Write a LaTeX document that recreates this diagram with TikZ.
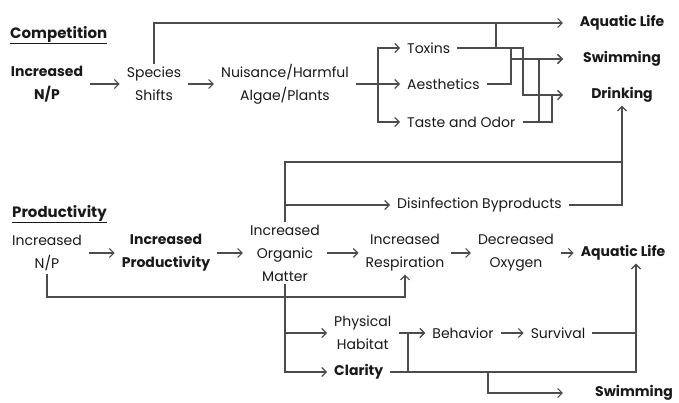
\documentclass[tikz,border=0pt]{standalone}
\usepackage{fontspec}
\setmainfont{Poppins}
\usetikzlibrary{arrows.meta, calc}

\begin{document}
\begin{tikzpicture}[x=1pt, y=-1pt,
    every node/.style={font=\fontsize{14}{23}\selectfont, inner xsep=7pt, inner ysep=3pt, align=center, text=black!90},
    bx/.style={font=\fontsize{14}{23}\selectfont\bfseries},
    ttl/.style={font=\fontsize{15}{18}\selectfont\bfseries, anchor=west, inner sep=0pt},
    outbox/.style={bx, minimum width=118pt, inner xsep=0pt},
    ln/.style={draw=black!70, line width=1.1pt},
    arrow/.style={ln, -{Straight Barb[length=4.5pt, width=9pt]}}]

  \useasboundingbox (0,0) rectangle (679,403);

  \node[ttl] (tComp) at (10,35) {\underline{Competition}};
  \node[bx] (cNP)    at (47,84)  {Increased\\N/P};
  \node (cSpec)      at (154,84) {Species\\Shifts};
  \node (cAlgae)     at (285,84) {Nuisance/Harmful\\Algae/Plants};
  \node[anchor=west] (cTox)   at (400,48)  {Toxins};
  \node[anchor=west] (cAes)   at (400,84)  {Aesthetics};
  \node[anchor=west] (cTaste) at (400,122) {Taste and Odor};
  \node[outbox] (uAqua)  at (622,23) {Aquatic Life};
  \node[outbox] (uSwim)  at (622,59) {Swimming};
  \node[outbox] (uDrink) at (622,95) {Drinking};

  \coordinate (brk) at (378,0);
  \coordinate (jA) at (496,0);
  \coordinate (jB) at (511,0);
  \coordinate (jC) at (523,0);
  \coordinate (jD) at (539,0);
  \coordinate (jE) at (552,0);

  \draw[arrow] (cNP) -- (cSpec);
  \draw[arrow] (cSpec) -- (cAlgae);
  \draw[arrow] (cSpec.north) |- (uAqua.west);
  \draw[arrow] (cAlgae.east) -- (cAes.west);
  \draw[arrow] (cAlgae.east -| brk) |- (cTox.west);
  \draw[arrow] (cAlgae.east -| brk) |- (cTaste.west);
  \draw[ln] (cTox.east) -| (jA |- uAqua.west);
  \draw[arrow] (cTox.east) -| (jB |- uSwim.west) -- (uSwim.west);
  \draw[arrow] (cTox.east) -| (jC |- uDrink.west) -- (uDrink.west);
  \draw[arrow] (cAes.east) -| (jB |- uSwim.west) -- (uSwim.west);
  \draw[arrow] (cTaste.east) -| (jD |- uSwim.west) -- (uSwim.west);
  \draw[arrow] (cTaste.east) -| (jE |- uDrink.west) -- (uDrink.west);

  \node[ttl] (tProd) at (12,214) {\underline{Productivity}};
  \node (pNP)        at (47,253)  {Increased\\N/P};
  \node[bx] (pProd)  at (166,253) {Increased\\Productivity};
  \node (pOM)        at (285,253) {Increased\\Organic\\Matter};
  \node (pResp)      at (405,253) {Increased\\Respiration};
  \node (pOxy)       at (516,253) {Decreased\\Oxygen};
  \node[bx] (pAqua)  at (623,253) {Aquatic Life};
  \node[anchor=west] (pDis) at (390,205) {Disinfection Byproducts};
  \node[anchor=west] (pHab) at (327,333) {Physical\\Habitat};
  \node[bx, anchor=west] (pClar) at (327,372) {Clarity};
  \node (pBeh)       at (463,333) {Behavior};
  \node (pSurv)      at (558,333) {Survival};
  \node[outbox, minimum width=142pt] (pSwim) at (634,393) {Swimming};

  \coordinate (npLow) at (47,297);
  \coordinate (dTop) at (0,162);
  \coordinate (jH) at (408,0);
  \coordinate (jS) at (488,0);
  \coordinate (jR) at (636,0);

  \draw[arrow] (pNP) -- (pProd);
  \draw[arrow] (pProd) -- (pOM);
  \draw[arrow] (pOM) -- (pResp);
  \draw[arrow] (pResp) -- (pOxy);
  \draw[arrow] (pOxy) -- (pAqua);
  \draw[arrow] (pNP.south) -- (npLow) -| (pResp.south);
  \draw[arrow] (pOM.north) |- (pDis.west);
  \draw[arrow] (pOM.north) |- (uDrink.south |- dTop) -- (uDrink.south);
  \draw[ln] (pDis.east) -| (uDrink.south |- dTop);
  \draw[arrow] (pOM.south) |- (pHab.west);
  \draw[arrow] (pOM.south) |- (pClar.west);
  \draw[arrow] (pHab.east) -- (pBeh.west);
  \draw[arrow] (pClar.east) -| (jH |- pBeh.west) -- (pBeh.west);
  \draw[arrow] (pBeh) -- (pSurv);
  \draw[arrow] (pSurv.east) -| (jR |- pAqua.south);
  \draw[arrow] (pClar.east) -| (jR |- pAqua.south);
  \draw[arrow] (pClar.east) -| (jS |- pSwim.west) -- (pSwim.west);
\end{tikzpicture}
\end{document}
